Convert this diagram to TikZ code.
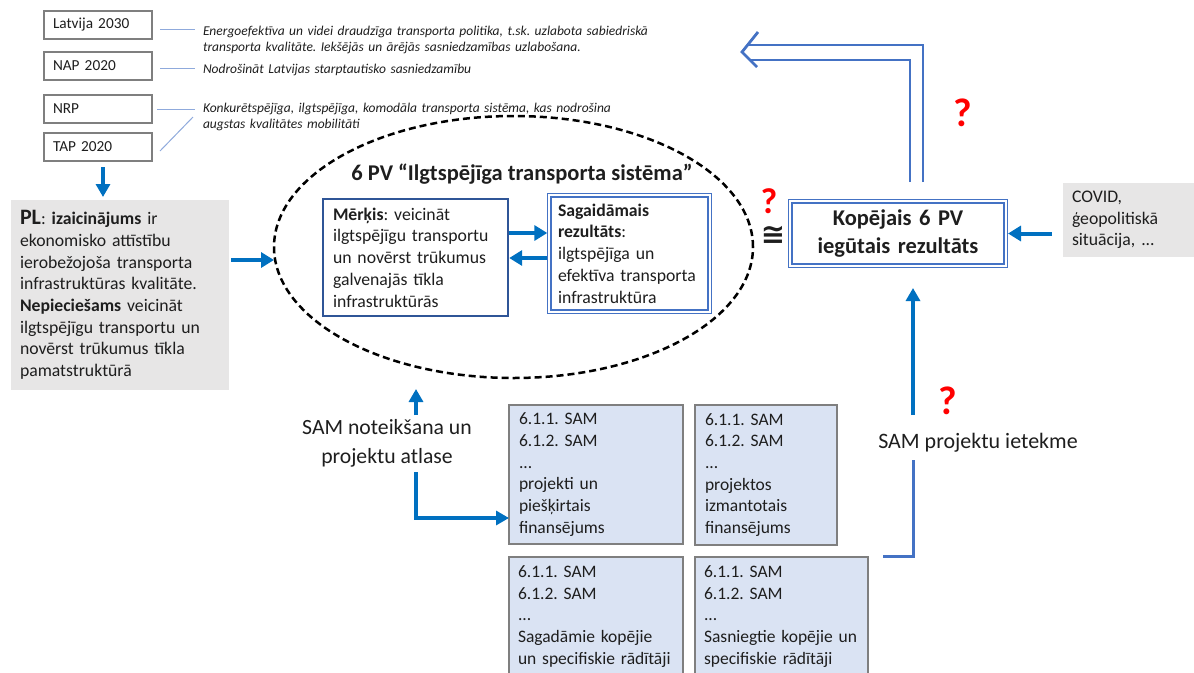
\documentclass[tikz,border=0pt]{standalone}
\usepackage{fontspec}
\setmainfont{Carlito}
\newfontfamily\djv{DejaVu Sans}
\usetikzlibrary{arrows.meta,calc,shapes.geometric}
\definecolor{arrblue}{HTML}{0070C0}
\definecolor{boxblue}{HTML}{4472C4}
\definecolor{darkblue}{HTML}{2F5597}
\definecolor{lineblue}{HTML}{8FAADC}
\definecolor{grayfill}{HTML}{E7E6E6}
\definecolor{samfill}{HTML}{DAE3F3}
\definecolor{bordergray}{HTML}{7F7F7F}
\definecolor{txt}{HTML}{1E1E1E}
\begin{document}
\frenchspacing
\begin{tikzpicture}[x=1pt,y=-1pt,
  every node/.style={outer sep=0pt, text=txt},
  lbox/.style={draw=bordergray, line width=1.3pt, fill=white, anchor=north west,
    minimum width=108pt, minimum height=28pt, inner xsep=9pt, inner ysep=0pt,
    text width=90pt, align=left, font=\fontsize{15.3}{18}\selectfont},
  note/.style={anchor=base west, inner sep=0pt, text width=480pt, align=left,
    font=\fontsize{13.5}{16}\selectfont\itshape},
  guide/.style={draw=lineblue, line width=1pt},
  graybox/.style={fill=grayfill, anchor=north west, inner ysep=0pt, inner xsep=9pt,
    align=left, font=\fontsize{17.7}{21.7}\selectfont},
  goalbox/.style={draw=darkblue, line width=2.5pt, fill=white, anchor=north west,
    inner ysep=0pt, align=left, font=\fontsize{17.7}{21.7}\selectfont},
  dblbox/.style={draw=boxblue, double=white, double distance=2.2pt, line width=1.2pt,
    anchor=north west, inner ysep=0pt, align=left, font=\fontsize{17.7}{21.7}\selectfont},
  sbox/.style={draw=bordergray, line width=1.3pt, fill=samfill, anchor=north west,
    inner ysep=0pt, align=left, font=\fontsize{17.5}{21.7}\selectfont},
  arr/.style={draw=arrblue, line width=3.2pt, -{Triangle[width=14pt,length=13pt]}},
  fat/.style={draw=arrblue, line width=4.5pt, -{Triangle[width=15pt,length=13pt]}},
  dbl/.style={draw=boxblue, line width=2.8pt, line join=miter},
  qmark/.style={text=red, font=\bfseries\fontsize{40}{40}\selectfont, inner sep=0pt},
  biglabel/.style={align=center, font=\fontsize{21.7}{29}\selectfont}
]
\useasboundingbox (0,0) rectangle (1194,672);

% ellipse and title
\node[ellipse, draw=black, line width=2.5pt, dash pattern=on 7pt off 4pt,
      minimum width=479pt, minimum height=262pt, inner sep=0pt] (pv) at (513.5,247) {};
\node[anchor=base, font=\bfseries\fontsize{22.5}{27}\selectfont] (title) at (522,180)
  {6 PV “Ilgtspējīga transporta sistēma”};

% label boxes
\node[lbox] (lat) at (44,11) {Latvija 2030};
\node[lbox] (nap) at (44,52) {NAP 2020};
\node[lbox] (nrp) at (44,95) {NRP};
\node[lbox] (tap) at (44,133) {TAP 2020};

% notes
\node[note] (t1) at (203,35) {Energoefektīva un videi draudzīga transporta politika, t.sk. uzlabota sabiedriskā\\transporta kvalitāte. Iekšējās un ārējās sasniedzamības uzlabošana.};
\node[note] (t2) at (203,73) {Nodrošināt Latvijas starptautisko sasniedzamību};
\node[note] (t3) at (203,112) {Konkurētspējīga, ilgtspējīga, komodāla transporta sistēma, kas nodrošina\\augstas kvalitātes mobilitāti};

\draw[guide] ([xshift=8pt,yshift=-4pt]lat.east) -- ++(35,0);
\draw[guide] ([xshift=8pt,yshift=-2pt]nap.east) -- ++(35,0);
\draw[guide] ([xshift=5pt]nrp.east) -- ++(38,0);
\draw[guide] ([xshift=8pt,yshift=-4pt]tap.east) -- ++(33,-34);

% PL box
\node[graybox, minimum width=218pt, minimum height=190pt, text width=200pt] (pl) at (11,200)
 {{\bfseries\fontsize{22}{21.7}\selectfont PL}: \textbf{izaicinājums} ir\\
  ekonomisko attīstību\\ ierobežojoša transporta\\ infrastruktūras kvalitāte.\\
  \textbf{Nepieciešams} veicināt\\ ilgtspējīgu transportu un\\ novērst trūkumus tīkla\\ pamatstruktūrā};

\coordinate (ta) at ([xshift=5pt,yshift=-6pt]tap.south);
\draw[arr, shorten >=3pt] (ta) -- (ta |- pl.north);
\coordinate (pa) at ([xshift=2pt,yshift=35pt]pl.east);
\draw[fat] (pa) -- (pa -| pv.west);

% inner boxes
\node[goalbox, minimum width=185pt, minimum height=117pt, inner xsep=10pt, text width=165pt] (merk) at (323,199)
 {\textbf{Mērķis}: veicināt\\ ilgtspējīgu transportu\\ un novērst trūkumus\\ galvenajās tīkla\\ infrastruktūrās};
\node[dblbox, minimum width=160.4pt, minimum height=116.4pt, inner xsep=8.7pt, text width=143pt] (sag) at (549.3,195.3)
 {\textbf{Sagaidāmais}\\ \textbf{rezultāts}:\\ ilgtspējīga un\\ efektīva transporta\\ infrastruktūra};

\coordinate (m1) at ([yshift=24.5pt]merk.east);
\draw[fat, shorten <=1.2pt, shorten >=2pt] (m1) -- (m1 -| sag.west);
\coordinate (m2) at ([yshift=-0.5pt]merk.east);
\draw[fat, shorten <=2pt, shorten >=1.2pt] (m2 -| sag.west) -- (m2);

% result box
\node[dblbox, minimum width=215.4pt, minimum height=64.4pt, inner xsep=7.7pt, text width=200pt,
      align=center, font=\bfseries\fontsize{22.5}{28}\selectfont] (kop) at (790.3,201.3)
 {Kopējais 6 PV\\iegūtais rezultāts};
\node[font=\djv\bfseries\fontsize{29}{29}\selectfont, inner sep=0pt] (cong) at (773,235) {≅};

% COVID
\node[graybox, minimum height=74pt, text width=122pt] (covid) at (1063,183)
 {COVID,\\ ģeopolitiskā\\ situācija, ...};
\coordinate (cv) at ([xshift=-11pt]covid.west);
\draw[fat, line width=4pt, shorten >=2.3pt] (cv |- kop.east) -- (kop.east);

% double outline arrow
\coordinate (d1) at (910,182);
\coordinate (d2) at (923,182);
\coordinate (dtip) at (742,52);
\draw[dbl] (d2) -- (923,45) -- (747.6,45);
\draw[dbl] (d1) -- (910,60) -- (750,60);
\draw[dbl] (758,32) -- (dtip) -- (757,67);

% question marks
\node[qmark] (q1) at (963,113) {?};
\node[qmark, font=\bfseries\fontsize{36}{36}\selectfont] (q2) at (769,201) {?};
\node[qmark] (q3) at (948,401) {?};

% SAM boxes
\node[sbox, minimum width=174pt, minimum height=139pt, inner xsep=10pt, text width=154pt] (b1) at (509,405)
 {6.1.1. SAM\\ 6.1.2. SAM\\ ...\\ projekti un\\ piešķirtais\\ finansējums};
\node[sbox, minimum width=142pt, minimum height=140pt, inner xsep=10pt, text width=122pt] (b2) at (695,405)
 {6.1.1. SAM\\ 6.1.2. SAM\\ ...\\ projektos\\ izmantotais\\ finansējums};
\node[sbox, minimum width=174pt, minimum height=119pt, inner xsep=9pt, text width=156pt] (b3) at (509,557)
 {6.1.1. SAM\\ 6.1.2. SAM\\ ...\\ Sagadāmie kopējie\\ \mbox{un specifiskie rādītāji}};
\node[sbox, minimum width=173pt, minimum height=119pt, inner xsep=9pt, text width=155pt] (b4) at (695,557)
 {6.1.1. SAM\\ 6.1.2. SAM\\ ...\\ \mbox{Sasniegtie kopējie un}\\ specifiskie rādītāji};

% SAM labels and arrows
\node[biglabel] (sn) at (387,443) {SAM noteikšana un\\projektu atlase};
\coordinate (s1) at (416,415);
\draw[arr, shorten >=11pt] (s1) -- (s1 |- pv.south);
\coordinate (s2) at (416,472);
\draw[arr] (s2) |- ([yshift=-43.5pt]b1.west);

\node[font=\fontsize{22}{26}\selectfont] (ie) at (978,443) {SAM projektu ietekme};
\coordinate (iu) at (913,415);
\draw[arr, shorten >=22.3pt] (iu) -- (iu |- kop.south);
\coordinate (il) at (913,460);
\coordinate (ir) at (883,556);
\draw[draw=boxblue, line width=3pt] (il) |- (ir);
\end{tikzpicture}
\end{document}
